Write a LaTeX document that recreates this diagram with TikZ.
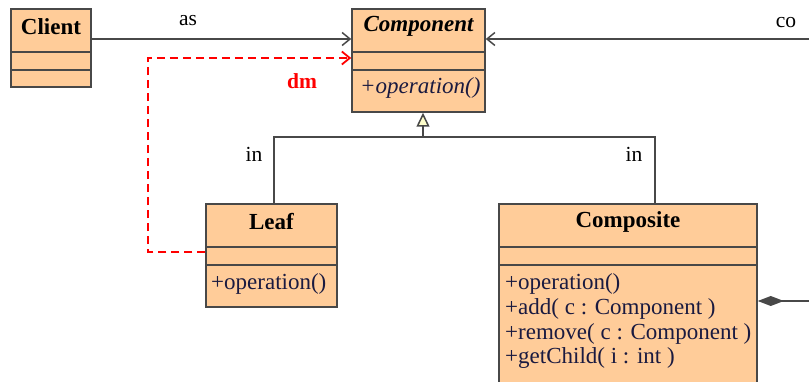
\documentclass[tikz,border=0pt]{standalone}
\usepackage{fontspec}
\setmainfont{Liberation Serif}
\usetikzlibrary{arrows.meta}
\definecolor{peach}{HTML}{FFCC99}
\definecolor{edgegray}{HTML}{484848}
\definecolor{navy}{HTML}{1A1A40}
\definecolor{paleyellow}{HTML}{FFFFCC}
\begin{document}
\begin{tikzpicture}[x=1pt,y=-1pt,
  classbox/.style={draw=edgegray, fill=peach, line width=1.5pt, inner sep=0pt},
  classtitle/.style={font=\fontsize{23}{25}\selectfont\bfseries, inner sep=0pt},
  member/.style={font=\fontsize{23}{25}\selectfont, text=navy, anchor=west, inner sep=0pt},
  sepline/.style={draw=edgegray, line width=1.5pt},
  link/.style={draw=edgegray, line width=1.5pt},
  openhead/.style={-{Straight Barb[length=8pt,width=13pt]}},
  lbl/.style={font=\fontsize{21.5}{24}\selectfont, inner sep=0pt}]
\useasboundingbox (0,0) rectangle (809,382);
\clip (0,0) rectangle (809,382);

% classes
\node[classbox, minimum width=80pt, minimum height=78pt] (client) at (51,48) {};
\node[classbox, minimum width=133pt, minimum height=103pt] (component) at (418.5,60.5) {};
\node[classbox, minimum width=131pt, minimum height=103pt] (leaf) at (271.5,255.5) {};
\node[classbox, minimum width=258pt, minimum height=216pt] (composite) at (628,312) {};

% compartment separators
\draw[sepline] (client.west |- 0,52) -- (client.east |- 0,52);
\draw[sepline] (client.west |- 0,70) -- (client.east |- 0,70);
\draw[sepline] (component.west |- 0,52) -- (component.east |- 0,52);
\draw[sepline] (component.west |- 0,70) -- (component.east |- 0,70);
\draw[sepline] (leaf.west |- 0,247) -- (leaf.east |- 0,247);
\draw[sepline] (leaf.west |- 0,265) -- (leaf.east |- 0,265);
\draw[sepline] (composite.west |- 0,247) -- (composite.east |- 0,247);
\draw[sepline] (composite.west |- 0,265) -- (composite.east |- 0,265);

% titles and members
\node[classtitle] (clientname) at (51,27) {Client};
\node[classtitle, font=\fontsize{23}{25}\selectfont\bfseries\itshape] (componentname) at (418.5,26.5) {Component};
\node[member, font=\fontsize{23}{25}\selectfont\itshape] (componentop) at (360,88) {+operation()};
\node[classtitle] (leafname) at (271.5,222) {Leaf};
\node[member] (leafop) at (211,283.5) {+operation()};
\node[classtitle] (compositename) at (628,222) {Composite};
\node[member] (compop) at (505,283.5) {+operation()};
\node[member] (compadd) at (505,308.5) {+add( c : Component )};
\node[member] (comprem) at (505,333.5) {+remove( c : Component )};
\node[member] (compget) at (505,358.5) {+getChild( i : int )};

% associations
\draw[link, openhead] (client.east |- 0,39) -- (component.west |- 0,39);
\coordinate (outside) at (812,39);
\draw[link, openhead] (outside) -- (component.east |- 0,39);
\node[lbl] (aslabel) at (188,21) {as};
\node[lbl] (colabel) at (786,23) {co};

% dependency
\coordinate (bendlow) at (148,252);
\coordinate (bendhigh) at (148,58);
\draw[red, line width=1.8pt, dash pattern=on 8pt off 5pt, -{Straight Barb[length=8pt,width=13pt]}]
  (leaf.west |- bendlow) -- (bendlow) -- (bendhigh) -- (component.west |- bendhigh);
\node[lbl, text=red, font=\fontsize{21.5}{24}\selectfont\bfseries] (dmlabel) at (302,81) {dm};

% generalization
\coordinate (join) at (423,137);
\coordinate (leaftop) at (274,204);
\coordinate (comptop) at (655,204);
\draw[link] (leaftop) |- (join) -| (comptop);
\draw[link, -{Triangle[fill=paleyellow, length=14pt, width=13pt, line width=1.5pt]}] (join) -- (component.south -| join);
\node[lbl] (inleft) at (254,154) {in};
\node[lbl] (inright) at (634,154) {in};

% composition
\coordinate (outsidelow) at (812,301);
\draw[link, -{Diamond[fill=edgegray, length=26pt, width=10pt]}] (outsidelow) -- (composite.east |- outsidelow);
\end{tikzpicture}
\end{document}
